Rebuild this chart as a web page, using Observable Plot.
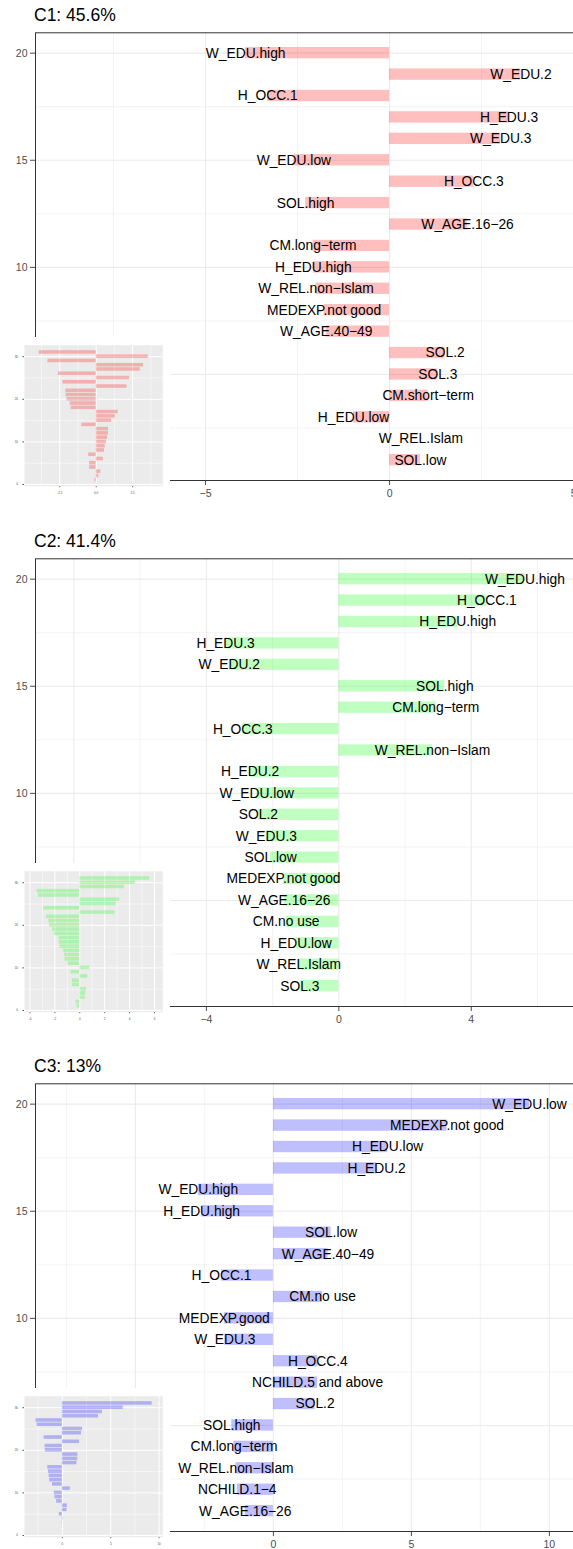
<!DOCTYPE html>
<html><head><meta charset="utf-8">
<script src="https://cdn.jsdelivr.net/npm/d3@7"></script>
<script src="https://cdn.jsdelivr.net/npm/@observablehq/plot@0.6"></script>
<style>
html,body{margin:0;padding:0;overflow:hidden;background:#fff;}
#root{position:relative;width:573px;height:1549px;overflow:hidden;font-family:"Liberation Sans",Arial,sans-serif;background:#fff;}
</style></head><body><div id="root"></div>
<script>
// ---- data ----
const titles = ["C1: 45.6%", "C2: 41.4%", "C3: 13%"];

const c1Labels = ["W_EDU.high","W_EDU.2","H_OCC.1","H_EDU.3","W_EDU.3","W_EDU.low","H_OCC.3","SOL.high","W_AGE.16−26","CM.long−term","H_EDU.high","W_REL.non−Islam","MEDEXP.not good","W_AGE.40−49","SOL.2","SOL.3","CM.short−term","H_EDU.low","W_REL.Islam","SOL.low"];
const c1Values = [-3.91, 3.57, -3.31, 3.25, 3.02, -2.60, 2.29, -2.28, 2.12, -2.08, -2.07, -2.00, -1.78, -1.72, 1.51, 1.31, 1.05, -0.98, 0.85, 0.84];
const c1Tail = [0.78, 0.70, 0.62, 0.57, -0.52, 0.50, -0.46, -0.45, 0.32, 0.18, -0.09];
const c1NoMainBar = ["W_REL.Islam"];

const c2Labels = ["W_EDU.high","H_OCC.1","H_EDU.high","H_EDU.3","W_EDU.2","SOL.high","CM.long−term","H_OCC.3","W_REL.non−Islam","H_EDU.2","W_EDU.low","SOL.2","W_EDU.3","SOL.low","MEDEXP.not good","W_AGE.16−26","CM.no use","H_EDU.low","W_REL.Islam","SOL.3"];
const c2Values = [5.62, 4.47, 3.59, -3.42, -3.31, 3.20, 2.93, -2.90, 2.83, -2.68, -2.48, -2.43, -2.19, -2.06, -1.67, -1.65, -1.59, -1.29, -1.21, -1.18];
const c2Tail = [-0.94, 0.80, -0.70, 0.64, -0.59, -0.59, 0.54, 0.48, 0.43, -0.30, -0.22];
const c2NoMainBar = [];

const c3Labels = ["W_EDU.low","MEDEXP.not good","H_EDU.low","H_EDU.2","W_EDU.high","H_EDU.high","SOL.low","W_AGE.40−49","H_OCC.1","CM.no use","MEDEXP.good","W_EDU.3","H_OCC.4","NCHILD.5 and above","SOL.2","SOL.high","CM.long−term","W_REL.non−Islam","NCHILD.1−4","W_AGE.16−26"];
const c3Values = [9.28, 6.29, 4.14, 3.74, -2.72, -2.60, 2.09, 1.98, -1.88, 1.78, -1.78, -1.76, 1.61, 1.60, 1.51, -1.51, -1.43, -1.36, -1.31, -1.02];
const c3Tail = [0.83, -0.83, -0.76, -0.59, 0.52, 0.48, -0.31, 0.06, -0.04, 0.02, 0.01];
const c3NoMainBar = [];

const fills = ["red", "#00ff00", "blue"];

// axes
const mainXTicks = [[-10, -5, 0, 5, 10], [-8, -4, 0, 4, 8], [-10, -5, 0, 5, 10]];
const mainXDomains = [[-9.62, 5.46], [-9.16, 7.6], [-8.62, 11.49]];
const mainYDomain = [0.05, 20.95];
const mainYTicks = [5, 10, 15, 20];
const insetXTicks = [[-2.5, 0, 2.5], [-4, -2, 0, 2, 4, 6], [0, 5, 10]];
const insetXTickLabels = [["-2.5", "0.0", "2.5"], ["-4", "-2", "0", "2", "4", "6"], ["0", "5", "10"]];
const insetXDomains = [[-4.92, 4.57], [-4.44, 6.67], [-3.91, 10.38]];
const insetYDomain = [-0.4, 32.7];
const insetYTicks = [0, 10, 20, 30];

// ---- layout ----
const blockTops = [0, 526, 1051];
const FONT = "Liberation Sans, Arial, sans-serif";

const allLabels = [c1Labels, c2Labels, c3Labels];
const allValues = [c1Values, c2Values, c3Values];
const allTails = [c1Tail, c2Tail, c3Tail];
const allHidden = [c1NoMainBar, c2NoMainBar, c3NoMainBar];

function inDomain(arr, [a, b]) { return arr.filter(v => v >= a && v <= b); }
function minors(major, dom) {
  const step = major[1] - major[0];
  const out = [major[0] - step / 2];
  for (let k = 0; k < major.length - 1; k++) out.push((major[k] + major[k + 1]) / 2);
  out.push(major[major.length - 1] + step / 2);
  return inDomain(out, dom);
}

function mainPlot(i) {
  const labels = allLabels[i], values = allValues[i];
  const rows = labels.map((label, k) => ({label, value: values[k], pos: labels.length - k}));
  const bars = rows.filter(d => !allHidden[i].includes(d.label));
  const xd = mainXDomains[i];
  const xMaj = inDomain(mainXTicks[i], xd);
  const xMin = minors(mainXTicks[i], xd);
  const yMaj = inDomain(mainYTicks, mainYDomain);
  const yMin = minors(mainYTicks, mainYDomain);
  return Plot.plot({
    width: 600, height: 505,
    marginLeft: 35, marginRight: 10, marginTop: 32.3, marginBottom: 25,
    style: {fontFamily: FONT, fontSize: "10.5px", color: "#4D4D4D", background: "transparent", maxWidth: "none"},
    x: {domain: xd, ticks: xMaj, tickSize: 5, tickPadding: 4, label: null},
    y: {domain: mainYDomain, ticks: yMaj, tickSize: 5, tickPadding: 3, label: null},
    marks: [
      Plot.ruleY(yMin, {stroke: "#EBEBEB", strokeWidth: 0.6}),
      Plot.ruleX(xMin, {stroke: "#EBEBEB", strokeWidth: 0.6}),
      Plot.ruleY(yMaj, {stroke: "#EBEBEB", strokeWidth: 1.1}),
      Plot.ruleX(xMaj, {stroke: "#EBEBEB", strokeWidth: 1.1}),
      Plot.rect(bars, {x1: () => 0, x2: "value", y1: d => d.pos - 0.265, y2: d => d.pos + 0.265, fill: fills[i], fillOpacity: 0.25}),
      Plot.text(rows, {x: "value", y: "pos", text: "label", fontSize: 13.8, fill: "black", textAnchor: "middle", fontFamily: FONT}),
      Plot.frame({stroke: "#333333", strokeWidth: 1})
    ]
  });
}

function insetPlot(i) {
  const vals = allValues[i].concat(allTails[i]);
  const n = vals.length;
  const rows = vals.map((value, k) => ({value, pos: n - k}));
  const xd = insetXDomains[i];
  const xMaj = inDomain(insetXTicks[i], xd);
  const xMin = minors(insetXTicks[i], xd);
  const yMaj = inDomain(insetYTicks, insetYDomain);
  const yMin = minors(insetYTicks, insetYDomain);
  const lab = new Map(insetXTicks[i].map((t, k) => [t, insetXTickLabels[i][k]]));
  return Plot.plot({
    width: 170, height: 163,
    marginLeft: 24, marginRight: 7.7, marginTop: 7.7, marginBottom: 14.3,
    style: {fontFamily: FONT, fontSize: "3px", color: "#4D4D4D", background: "white", maxWidth: "none"},
    x: {domain: xd, ticks: xMaj, tickSize: 1.5, tickPadding: 4.5, label: null, tickFormat: t => lab.get(t)},
    y: {domain: insetYDomain, ticks: yMaj, tickSize: 1.5, tickPadding: 5, label: null},
    marks: [
      Plot.frame({fill: "#EBEBEB"}),
      Plot.ruleY(yMin, {stroke: "white", strokeWidth: 0.5}),
      Plot.ruleX(xMin, {stroke: "white", strokeWidth: 0.5}),
      Plot.ruleY(yMaj, {stroke: "white", strokeWidth: 1}),
      Plot.ruleX(xMaj, {stroke: "white", strokeWidth: 1}),
      Plot.rect(rows, {x1: () => 0, x2: "value", y1: d => d.pos - 0.42, y2: d => d.pos + 0.42, fill: fills[i], fillOpacity: 0.25})
    ]
  });
}

const root = document.getElementById("root");
for (let i = 0; i < 3; i++) {
  const top = blockTops[i];
  const m = mainPlot(i);
  Object.assign(m.style, {position: "absolute", left: "0px", top: top + "px"});
  root.appendChild(m);

  const ins = insetPlot(i);
  Object.assign(ins.style, {position: "absolute", left: "0px", top: (top + 337.3) + "px"});
  root.appendChild(ins);

  const t = document.createElement("div");
  Object.assign(t.style, {
    position: "absolute", left: "34px", top: (top + 5.2) + "px",
    fontFamily: FONT, fontSize: "17.5px", lineHeight: "20px", color: "#000", whiteSpace: "nowrap"
  });
  t.textContent = titles[i];
  root.appendChild(t);
}
</script>
</body></html>
